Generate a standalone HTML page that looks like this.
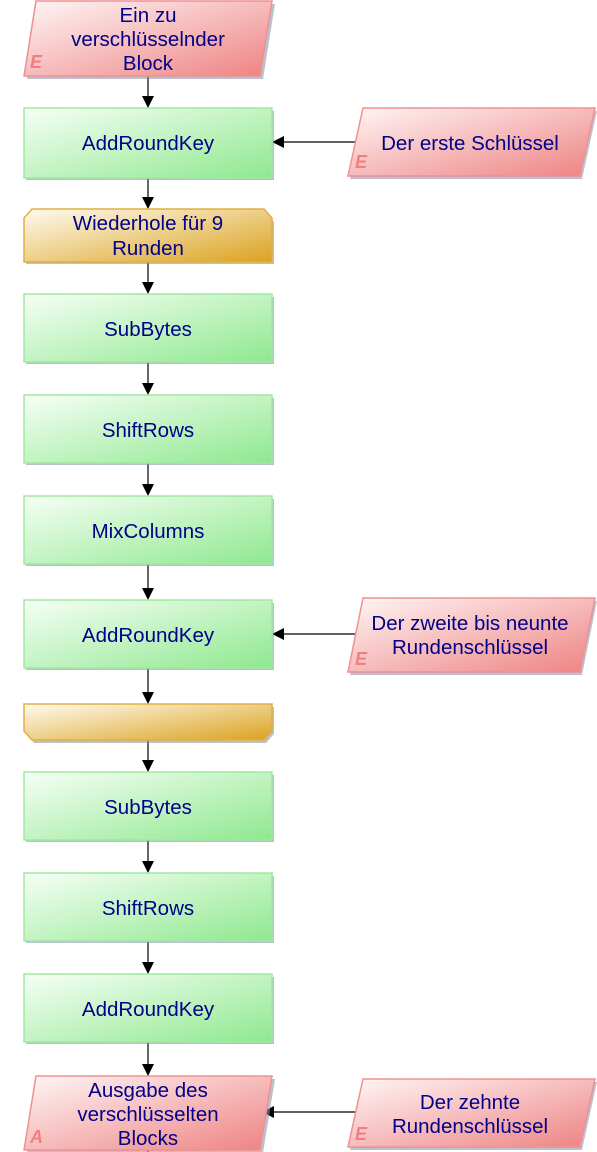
<!DOCTYPE html>
<html><head><meta charset="utf-8"><style>
html,body{margin:0;padding:0;background:#fff;width:597px;height:1152px;overflow:hidden}
text{font-family:"Liberation Sans",sans-serif;font-size:20.5px;fill:#000088;text-anchor:middle}
.e{font-size:18px;font-weight:bold;font-style:italic;fill:#f08080;text-anchor:start}
</style></head><body>
<svg width="597" height="1152" viewBox="0 0 597 1152" xmlns="http://www.w3.org/2000/svg">
<defs>
<linearGradient id="g" x1="0" y1="0" x2="1" y2="1"><stop offset="0" stop-color="#f6fff6"/><stop offset="1" stop-color="#8fe88f"/></linearGradient>
<linearGradient id="r" x1="0" y1="0" x2="1" y2="1"><stop offset="0" stop-color="#fff6f6"/><stop offset="1" stop-color="#ee8282"/></linearGradient>
<linearGradient id="o" x1="0" y1="0" x2="1" y2="1"><stop offset="0" stop-color="#fffbf0"/><stop offset="1" stop-color="#dba21f"/></linearGradient>
<marker id="a" markerWidth="12" markerHeight="12" refX="11" refY="6" orient="auto" markerUnits="userSpaceOnUse"><path d="M0,0 L12,6 L0,12 z" fill="#000"/></marker>
</defs>
<g stroke="#000" stroke-width="1.2" fill="none">
<line x1="148" y1="76" x2="148" y2="107" marker-end="url(#a)"/>
<line x1="148" y1="178" x2="148" y2="208" marker-end="url(#a)"/>
<line x1="148" y1="262" x2="148" y2="293" marker-end="url(#a)"/>
<line x1="148" y1="362" x2="148" y2="394" marker-end="url(#a)"/>
<line x1="148" y1="463" x2="148" y2="495" marker-end="url(#a)"/>
<line x1="148" y1="564" x2="148" y2="599" marker-end="url(#a)"/>
<line x1="148" y1="668" x2="148" y2="703" marker-end="url(#a)"/>
<line x1="148" y1="740" x2="148" y2="771" marker-end="url(#a)"/>
<line x1="148" y1="840" x2="148" y2="872" marker-end="url(#a)"/>
<line x1="148" y1="941" x2="148" y2="973" marker-end="url(#a)"/>
<line x1="148" y1="1042" x2="148" y2="1075" marker-end="url(#a)"/>
<line x1="148" y1="1148" x2="148" y2="1152"/>
<line x1="356" y1="142" x2="273" y2="142" marker-end="url(#a)"/>
<line x1="356" y1="634" x2="273" y2="634" marker-end="url(#a)"/>
<line x1="356" y1="1112" x2="263" y2="1112" marker-end="url(#a)"/>
</g>
<g fill="#8a9ab0" opacity="0.6">
<polygon points="38,4 275,4 263,79 27,79"/>
<rect x="26" y="111" width="248" height="69"/>
<rect x="26" y="297" width="248" height="67"/>
<rect x="26" y="398" width="248" height="67"/>
<rect x="26" y="499" width="248" height="67"/>
<rect x="26" y="603" width="248" height="67"/>
<rect x="26" y="775" width="248" height="67"/>
<rect x="26" y="876" width="248" height="67"/>
<rect x="26" y="977" width="248" height="67"/>
<polygon points="38,1079 275,1079 263,1153 27,1153"/>
<polygon points="365,111 597,111 582,179 350,179"/>
<polygon points="365,601 597,601 582,675 350,675"/>
<polygon points="365,1082 597,1082 582,1150 350,1150"/>
<polygon points="34,212 264,212 274,222 274,264 26,264 26,222"/>
<polygon points="26,707 274,707 274,734 266,743 34,743 26,734"/>
</g>
<g stroke="#f09090" stroke-width="1.5" fill="url(#r)">
<polygon points="36,1 272,1 260,76 24,76"/>
<polygon points="36,1076 272,1076 260,1150 24,1150"/>
<polygon points="363,108 595,108 580,176 348,176"/>
<polygon points="363,598 595,598 580,672 348,672"/>
<polygon points="363,1079 595,1079 580,1147 348,1147"/>
</g>
<g stroke="#a0e8a0" stroke-width="1.5" fill="url(#g)">
<rect x="24" y="108" width="248" height="70"/>
<rect x="24" y="294" width="248" height="68"/>
<rect x="24" y="395" width="248" height="68"/>
<rect x="24" y="496" width="248" height="68"/>
<rect x="24" y="600" width="248" height="68"/>
<rect x="24" y="772" width="248" height="68"/>
<rect x="24" y="873" width="248" height="68"/>
<rect x="24" y="974" width="248" height="68"/>
</g>
<g stroke="#e0b040" stroke-width="1.5" fill="url(#o)">
<polygon points="32,209 264,209 272,218 272,262 24,262 24,218"/>
<polygon points="24,704 272,704 272,731 264,740 32,740 24,731"/>
</g>
<text x="148" y="22">Ein zu</text>
<text x="148" y="46">verschlüsselnder</text>
<text x="148" y="70">Block</text>
<text x="148" y="150">AddRoundKey</text>
<text x="148" y="230">Wiederhole für 9</text>
<text x="148" y="255">Runden</text>
<text x="148" y="336">SubBytes</text>
<text x="148" y="437">ShiftRows</text>
<text x="148" y="538">MixColumns</text>
<text x="148" y="642">AddRoundKey</text>
<text x="148" y="814">SubBytes</text>
<text x="148" y="915">ShiftRows</text>
<text x="148" y="1016">AddRoundKey</text>
<text x="148" y="1097">Ausgabe des</text>
<text x="148" y="1121">verschlüsselten</text>
<text x="148" y="1145">Blocks</text>
<text x="470" y="150">Der erste Schlüssel</text>
<text x="470" y="630">Der zweite bis neunte</text>
<text x="470" y="654">Rundenschlüssel</text>
<text x="470" y="1109">Der zehnte</text>
<text x="470" y="1133">Rundenschlüssel</text>
<text class="e" x="30" y="68">E</text>
<text class="e" x="355" y="168">E</text>
<text class="e" x="355" y="665">E</text>
<text class="e" x="355" y="1140">E</text>
<text class="e" x="30" y="1143">A</text>
</svg>
</body></html>
